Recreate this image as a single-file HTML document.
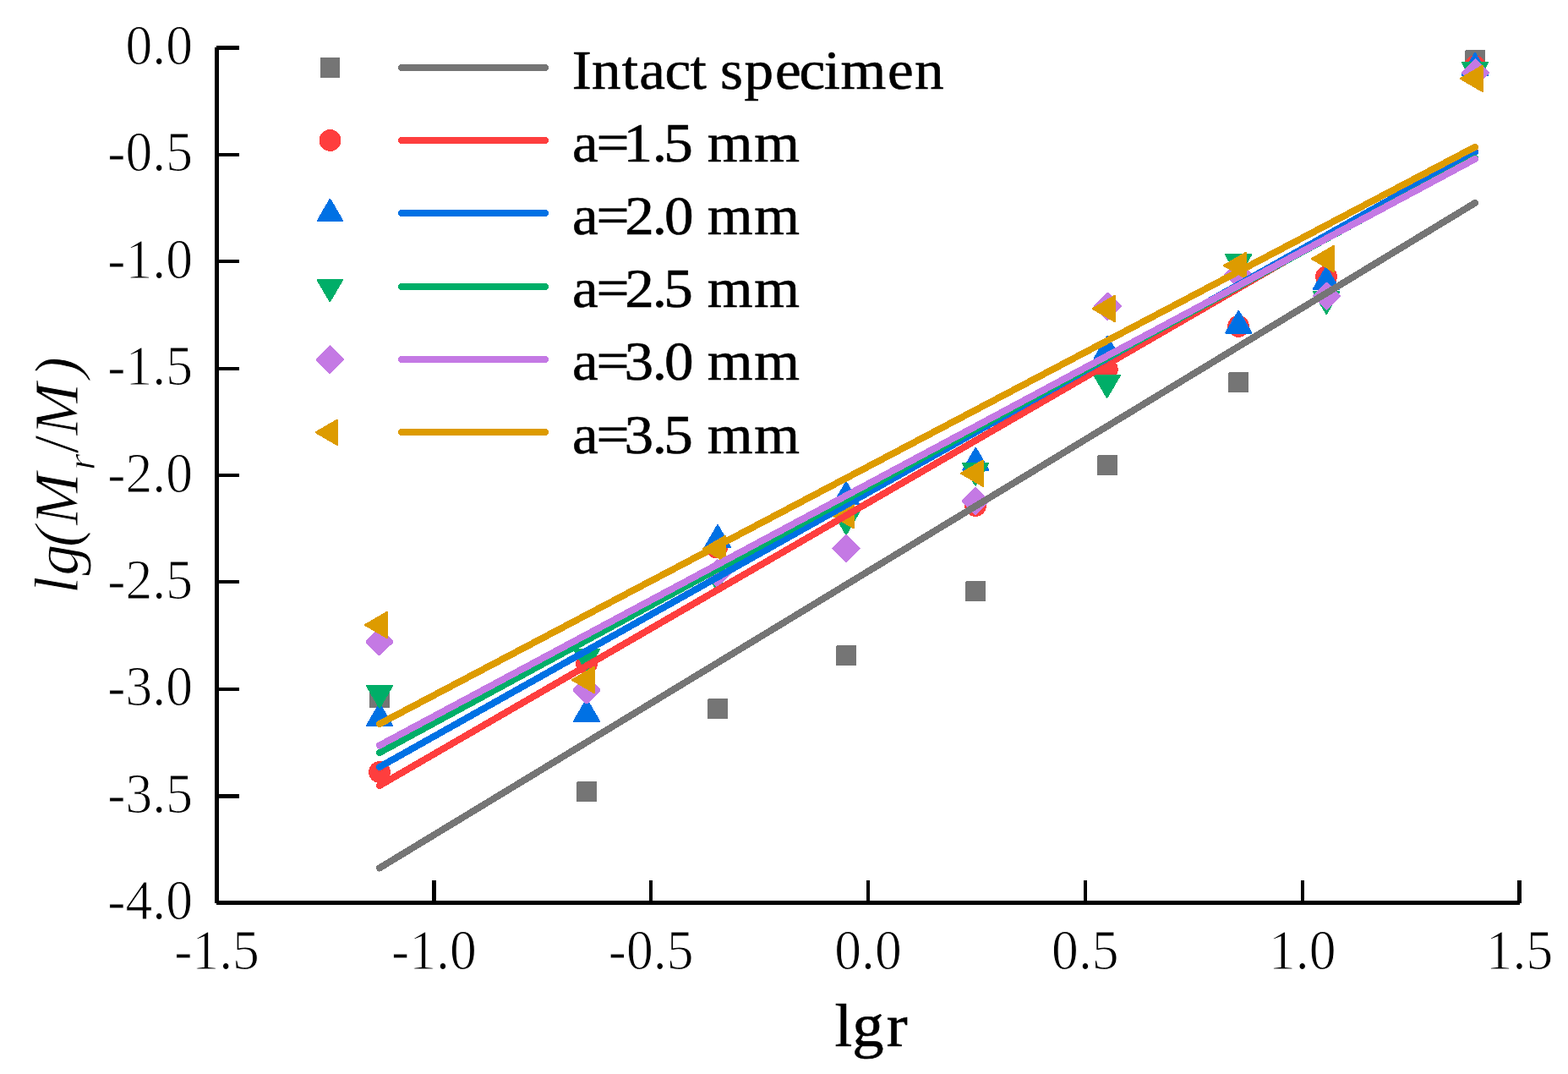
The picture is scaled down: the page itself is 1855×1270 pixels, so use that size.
<!DOCTYPE html>
<html lang="en"><head><meta charset="utf-8"><title>lg(Mr/M) versus lgr</title>
<style>
html,body{margin:0;padding:0;background:#fff;}
body{width:1855px;height:1270px;overflow:hidden;}
svg{display:block;}
text{font-family:"Liberation Serif","DejaVu Serif",serif;fill:#000;}
.tk{font-size:67px;}
.lg{font-size:67px;}
</style></head><body>
<svg width="1855" height="1270" viewBox="0 0 1855 1270">
<rect width="1855" height="1270" fill="#fff"/>
<g shape-rendering="crispEdges">
<g>
<polygon points="438,813 460,813 461,814 461,837 437,837 437,814" fill="#757575"/>
<polygon points="683,924 705,924 706,925 706,948 682,948 682,925" fill="#757575"/>
<polygon points="838,826 860,826 861,827 861,850 837,850 837,827" fill="#757575"/>
<polygon points="990,763 1012,763 1013,764 1013,787 989,787 989,764" fill="#757575"/>
<polygon points="1143,687 1165,687 1166,688 1166,711 1142,711 1142,688" fill="#757575"/>
<polygon points="1299,538 1321,538 1322,539 1322,562 1298,562 1298,539" fill="#757575"/>
<polygon points="1454,440 1476,440 1477,441 1477,464 1453,464 1453,441" fill="#757575"/>
<polygon points="1734,59 1756,59 1757,60 1757,83 1733,83 1733,60" fill="#757575"/>
</g>
<g>
<circle cx="449" cy="913" r="12.9" fill="#FE3E3E"/>
<circle cx="694" cy="785" r="12.9" fill="#FE3E3E"/>
<circle cx="848" cy="647.5" r="12.9" fill="#FE3E3E"/>
<circle cx="1154" cy="598" r="12.9" fill="#FE3E3E"/>
<circle cx="1309.8" cy="436.8" r="12.9" fill="#FE3E3E"/>
<circle cx="1465.1" cy="385.9" r="12.9" fill="#FE3E3E"/>
<circle cx="1569" cy="327.2" r="12.9" fill="#FE3E3E"/>
<circle cx="1745" cy="78.2" r="12.9" fill="#FE3E3E"/>
</g>
<g>
<polygon points="449,832.65 434.2,858.05 463.8,858.05" fill="#0071E4" stroke="#0071E4" stroke-width="2.5" stroke-linejoin="round"/>
<polygon points="694,827.45 679.2,852.85 708.8,852.85" fill="#0071E4" stroke="#0071E4" stroke-width="2.5" stroke-linejoin="round"/>
<polygon points="849,621.65 834.2,647.05 863.8,647.05" fill="#0071E4" stroke="#0071E4" stroke-width="2.5" stroke-linejoin="round"/>
<polygon points="1001,570.65 986.2,596.05 1015.8,596.05" fill="#0071E4" stroke="#0071E4" stroke-width="2.5" stroke-linejoin="round"/>
<polygon points="1154.3,530.25 1139.5,555.65 1169.1,555.65" fill="#0071E4" stroke="#0071E4" stroke-width="2.5" stroke-linejoin="round"/>
<polygon points="1309.9,398.05 1295.1,423.45 1324.7,423.45" fill="#0071E4" stroke="#0071E4" stroke-width="2.5" stroke-linejoin="round"/>
<polygon points="1465.3,368.25 1450.5,393.65 1480.1,393.65" fill="#0071E4" stroke="#0071E4" stroke-width="2.5" stroke-linejoin="round"/>
<polygon points="1569,316.15 1554.2,341.55 1583.8,341.55" fill="#0071E4" stroke="#0071E4" stroke-width="2.5" stroke-linejoin="round"/>
<polygon points="1745,63.15 1730.2,88.55 1759.8,88.55" fill="#0071E4" stroke="#0071E4" stroke-width="2.5" stroke-linejoin="round"/>
</g>
<g>
<polygon points="449,836.35 434.2,810.95 463.8,810.95" fill="#00AE68" stroke="#00AE68" stroke-width="2.5" stroke-linejoin="round"/>
<polygon points="694,793.35 679.2,767.95 708.8,767.95" fill="#00AE68" stroke="#00AE68" stroke-width="2.5" stroke-linejoin="round"/>
<polygon points="848.3,697.85 833.5,672.45 863.1,672.45" fill="#00AE68" stroke="#00AE68" stroke-width="2.5" stroke-linejoin="round"/>
<polygon points="1001,631.35 986.2,605.95 1015.8,605.95" fill="#00AE68" stroke="#00AE68" stroke-width="2.5" stroke-linejoin="round"/>
<polygon points="1154,573.35 1139.2,547.95 1168.8,547.95" fill="#00AE68" stroke="#00AE68" stroke-width="2.5" stroke-linejoin="round"/>
<polygon points="1309.7,469.55 1294.9,444.15 1324.5,444.15" fill="#00AE68" stroke="#00AE68" stroke-width="2.5" stroke-linejoin="round"/>
<polygon points="1465.1,326.75 1450.3,301.35 1479.9,301.35" fill="#00AE68" stroke="#00AE68" stroke-width="2.5" stroke-linejoin="round"/>
<polygon points="1569.2,370.55 1554.4,345.15 1584,345.15" fill="#00AE68" stroke="#00AE68" stroke-width="2.5" stroke-linejoin="round"/>
<polygon points="1745,99.55 1730.2,74.15 1759.8,74.15" fill="#00AE68" stroke="#00AE68" stroke-width="2.5" stroke-linejoin="round"/>
</g>
<g>
<polygon points="449,743.75 464.25,759 449,774.25 433.75,759" fill="#C479E4" stroke="#C479E4" stroke-width="2.5" stroke-linejoin="round"/>
<polygon points="694,800.75 709.25,816 694,831.25 678.75,816" fill="#C479E4" stroke="#C479E4" stroke-width="2.5" stroke-linejoin="round"/>
<polygon points="848.3,662.75 863.55,678 848.3,693.25 833.05,678" fill="#C479E4" stroke="#C479E4" stroke-width="2.5" stroke-linejoin="round"/>
<polygon points="1001,633.35 1016.25,648.6 1001,663.85 985.75,648.6" fill="#C479E4" stroke="#C479E4" stroke-width="2.5" stroke-linejoin="round"/>
<polygon points="1154.3,577.15 1169.55,592.4 1154.3,607.65 1139.05,592.4" fill="#C479E4" stroke="#C479E4" stroke-width="2.5" stroke-linejoin="round"/>
<polygon points="1310.4,347.15 1325.65,362.4 1310.4,377.65 1295.15,362.4" fill="#C479E4" stroke="#C479E4" stroke-width="2.5" stroke-linejoin="round"/>
<polygon points="1465,309.25 1480.25,324.5 1465,339.75 1449.75,324.5" fill="#C479E4" stroke="#C479E4" stroke-width="2.5" stroke-linejoin="round"/>
<polygon points="1569.5,334.95 1584.75,350.2 1569.5,365.45 1554.25,350.2" fill="#C479E4" stroke="#C479E4" stroke-width="2.5" stroke-linejoin="round"/>
<polygon points="1745.5,70.75 1760.75,86 1745.5,101.25 1730.25,86" fill="#C479E4" stroke="#C479E4" stroke-width="2.5" stroke-linejoin="round"/>
</g>
<g>
<polygon points="432.35,739 457.75,724.2 457.75,753.8" fill="#DD9B00" stroke="#DD9B00" stroke-width="2.5" stroke-linejoin="round"/>
<polygon points="677.35,804 702.75,789.2 702.75,818.8" fill="#DD9B00" stroke="#DD9B00" stroke-width="2.5" stroke-linejoin="round"/>
<polygon points="832.35,649 857.75,634.2 857.75,663.8" fill="#DD9B00" stroke="#DD9B00" stroke-width="2.5" stroke-linejoin="round"/>
<polygon points="984.25,609 1009.65,594.2 1009.65,623.8" fill="#DD9B00" stroke="#DD9B00" stroke-width="2.5" stroke-linejoin="round"/>
<polygon points="1137.35,559.7 1162.75,544.9 1162.75,574.5" fill="#DD9B00" stroke="#DD9B00" stroke-width="2.5" stroke-linejoin="round"/>
<polygon points="1293.15,365 1318.55,350.2 1318.55,379.8" fill="#DD9B00" stroke="#DD9B00" stroke-width="2.5" stroke-linejoin="round"/>
<polygon points="1448.35,314 1473.75,299.2 1473.75,328.8" fill="#DD9B00" stroke="#DD9B00" stroke-width="2.5" stroke-linejoin="round"/>
<polygon points="1552.35,306 1577.75,291.2 1577.75,320.8" fill="#DD9B00" stroke="#DD9B00" stroke-width="2.5" stroke-linejoin="round"/>
<polygon points="1728.25,92.9 1753.65,78.1 1753.65,107.7" fill="#DD9B00" stroke="#DD9B00" stroke-width="2.5" stroke-linejoin="round"/>
</g>
<g fill="none" stroke-width="8" stroke-linecap="round">
<line x1="449" y1="1026.4" x2="1745" y2="240" stroke="#757575"/>
<line x1="449" y1="929" x2="1745" y2="179" stroke="#FE3E3E"/>
<line x1="449" y1="907" x2="1745" y2="179.5" stroke="#0071E4"/>
<line x1="449" y1="890" x2="1745" y2="187" stroke="#00AE68"/>
<line x1="449" y1="881.5" x2="1745" y2="188" stroke="#C479E4"/>
<line x1="449" y1="856" x2="1745" y2="173.8" stroke="#DD9B00"/>
</g>
</g>
<g shape-rendering="crispEdges" fill="#000">
<rect x="254" y="56" width="5" height="1012"/>
<rect x="256" y="1065" width="1542" height="5"/>
<rect x="256" y="54" width="27" height="5"/>
<rect x="256" y="181" width="27" height="4"/>
<rect x="256" y="307" width="27" height="4"/>
<rect x="256" y="434" width="27" height="4"/>
<rect x="256" y="560" width="27" height="4"/>
<rect x="256" y="686" width="27" height="4"/>
<rect x="256" y="813" width="27" height="4"/>
<rect x="256" y="939" width="27" height="5"/>
<rect x="511" y="1041" width="5" height="27"/>
<rect x="768" y="1041" width="4" height="27"/>
<rect x="1025" y="1041" width="4" height="27"/>
<rect x="1282" y="1041" width="4" height="27"/>
<rect x="1539" y="1041" width="4" height="27"/>
<rect x="1795" y="1041" width="5" height="27"/>
</g>
<g class="tk" text-anchor="end" style="font-size:67px;stroke:#fff;stroke-width:1">
<text transform="translate(228,76.1) scale(0.95,1)">0.0</text>
<text transform="translate(228,202.47) scale(0.95,1)">-0.5</text>
<text transform="translate(228,328.85) scale(0.95,1)">-1.0</text>
<text transform="translate(228,455.23) scale(0.95,1)">-1.5</text>
<text transform="translate(228,581.6) scale(0.95,1)">-2.0</text>
<text transform="translate(228,707.98) scale(0.95,1)">-2.5</text>
<text transform="translate(228,834.35) scale(0.95,1)">-3.0</text>
<text transform="translate(228,960.73) scale(0.95,1)">-3.5</text>
<text transform="translate(228,1087.1) scale(0.95,1)">-4.0</text>
</g>
<g class="tk" text-anchor="middle" style="font-size:67px;stroke:#fff;stroke-width:1">
<text transform="translate(256.5,1146.2) scale(0.95,1)">-1.5</text>
<text transform="translate(513.33,1146.2) scale(0.95,1)">-1.0</text>
<text transform="translate(770.17,1146.2) scale(0.95,1)">-0.5</text>
<text transform="translate(1027,1146.2) scale(0.95,1)">0.0</text>
<text transform="translate(1283.83,1146.2) scale(0.95,1)">0.5</text>
<text transform="translate(1540.67,1146.2) scale(0.95,1)">1.0</text>
<text transform="translate(1797.5,1146.2) scale(0.95,1)">1.5</text>
</g>
<g shape-rendering="crispEdges">
<rect x="379" y="68" width="23" height="24" fill="#757575"/>
<line x1="475" y1="80" x2="645" y2="80" stroke="#757575" stroke-width="8" stroke-linecap="round"/>
<circle cx="390.6" cy="166" r="12.9" fill="#FE3E3E"/>
<line x1="475" y1="166" x2="645" y2="166" stroke="#FE3E3E" stroke-width="8" stroke-linecap="round"/>
<polygon points="390.5,236.25 376.25,260.75 404.75,260.75" fill="#0071E4" stroke="#0071E4" stroke-width="2.5" stroke-linejoin="round"/>
<line x1="475" y1="252" x2="645" y2="252" stroke="#0071E4" stroke-width="8" stroke-linecap="round"/>
<polygon points="390.3,355.75 376.05,331.25 404.55,331.25" fill="#00AE68" stroke="#00AE68" stroke-width="2.5" stroke-linejoin="round"/>
<line x1="475" y1="339" x2="645" y2="339" stroke="#00AE68" stroke-width="8" stroke-linecap="round"/>
<polygon points="390.4,409.8 405.9,425.3 390.4,440.8 374.9,425.3" fill="#C479E4" stroke="#C479E4" stroke-width="2.5" stroke-linejoin="round"/>
<line x1="475" y1="425" x2="645" y2="425" stroke="#C479E4" stroke-width="8" stroke-linecap="round"/>
<polygon points="374.15,511.3 398.65,497.05 398.65,525.55" fill="#DD9B00" stroke="#DD9B00" stroke-width="2.5" stroke-linejoin="round"/>
<line x1="475" y1="511" x2="645" y2="511" stroke="#DD9B00" stroke-width="8" stroke-linecap="round"/>
</g>
<g style="font-size:66.5px;stroke:#000;stroke-width:0.6">
<text transform="translate(0,104.6) scale(1.04,1)" x="650.63 673.07 707.36 727.17 756.34 785.1 803.58 819.25 846.54 881.73 909.18 937.28 956.17 1009.62 1040.37" y="0">Intact specimen</text>
<text transform="translate(0,190.8) scale(1.04,1)" x="651.07 678.38 709.08 742.17 754.95 788.2 804.54 858.05" y="0">a=1.5 mm</text>
<text transform="translate(0,277) scale(1.04,1)" x="651.07 678.38 710.91 742.17 755.78 789.03 804.54 858.05" y="0">a=2.0 mm</text>
<text transform="translate(0,363.2) scale(1.04,1)" x="651.07 678.38 710.91 742.17 754.95 788.2 804.54 858.05" y="0">a=2.5 mm</text>
<text transform="translate(0,449.4) scale(1.04,1)" x="651.07 678.38 710.1 742.17 755.78 789.03 804.54 858.05" y="0">a=3.0 mm</text>
<text transform="translate(0,535.6) scale(1.04,1)" x="651.07 678.38 710.1 742.17 754.95 788.2 804.54 858.05" y="0">a=3.5 mm</text>
</g>
<text transform="translate(0,1236.6) scale(1.04,1)" x="949.42 969.41 1008.33" y="0" style="font-size:72px;stroke:#000;stroke-width:0.6">lgr</text>
<text transform="translate(92.3,700) rotate(-90) scale(1.02,1)" x="-2.11 18.88 51.85 77.51 141.07 160.28 181.58 248.2" y="0" style="font-size:73px;font-style:italic;stroke:#fff;stroke-width:0.9">lg(M<tspan dy="19.6" style="font-size:49px">r</tspan><tspan dy="-19.6" style="font-size:77px;font-style:normal">/</tspan>M)</text>
</svg>
</body></html>
